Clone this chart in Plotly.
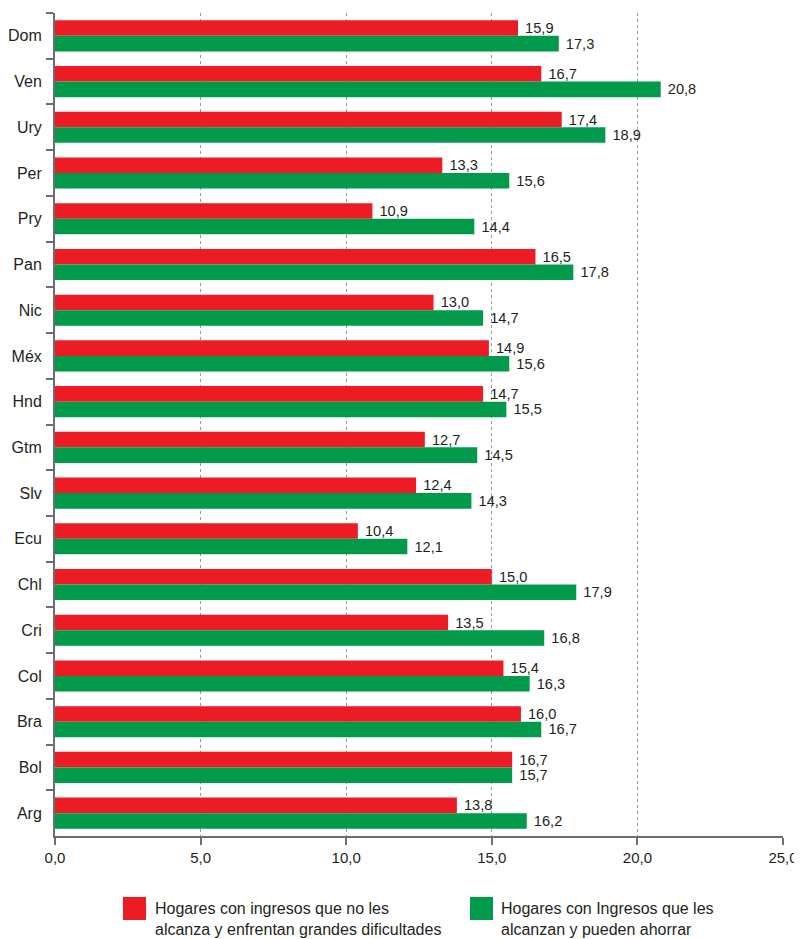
import plotly.graph_objects as go

countries = ['Dom', 'Ven', 'Ury', 'Per', 'Pry', 'Pan', 'Nic', 'Méx', 'Hnd',
             'Gtm', 'Slv', 'Ecu', 'Chl', 'Cri', 'Col', 'Bra', 'Bol', 'Arg']

# bar lengths as drawn in the picture
red_values = [15.9, 16.7, 17.4, 13.3, 10.9, 16.5, 13.0, 14.9, 14.7,
              12.7, 12.4, 10.4, 15.0, 13.5, 15.4, 16.0, 15.7, 13.8]
green_values = [17.3, 20.8, 18.9, 15.6, 14.4, 17.8, 14.7, 15.6, 15.5,
                14.5, 14.3, 12.1, 17.9, 16.8, 16.3, 16.7, 15.7, 16.2]

# printed labels (Bol red label differs from its bar in the source)
red_labels = ['15,9', '16,7', '17,4', '13,3', '10,9', '16,5', '13,0', '14,9', '14,7',
              '12,7', '12,4', '10,4', '15,0', '13,5', '15,4', '16,0', '16,7', '13,8']
green_labels = ['17,3', '20,8', '18,9', '15,6', '14,4', '17,8', '14,7', '15,6', '15,5',
                '14,5', '14,3', '12,1', '17,9', '16,8', '16,3', '16,7', '15,7', '16,2']

x_ticks = [0, 5, 10, 15, 20, 25]
x_tick_labels = ['0,0', '5,0', '10,0', '15,0', '20,0', '25,0']

series_names = ['Hogares con ingresos que no les<br>alcanza y enfrentan grandes dificultades',
                'Hogares con Ingresos que les<br>alcanzan y pueden ahorrar']

RED = '#ED1C24'
GREEN = '#009A4A'
TEXT = '#231F20'
FONT = 'Liberation Sans, Arial, sans-serif'

# the page body adds an 8px margin, so the figure is sized to fit inside it
W, H = 794, 931
ML, MT = 47, 5
PW, PH = 728, 823

fig = go.Figure()
fig.add_trace(go.Bar(y=countries, x=red_values, orientation='h', name=series_names[0],
                     marker_color=RED, marker_line_width=0,
                     text=red_labels, texttemplate=' %{text}',
                     textposition='outside', cliponaxis=False,
                     textfont=dict(size=16, color=TEXT, family=FONT)))
fig.add_trace(go.Bar(y=countries, x=green_values, orientation='h', name=series_names[1],
                     marker_color=GREEN, marker_line_width=0,
                     text=green_labels, texttemplate=' %{text}',
                     textposition='outside', cliponaxis=False,
                     textfont=dict(size=16, color=TEXT, family=FONT)))

fig.update_layout(
    width=W, height=H,
    margin=dict(l=ML, r=W - ML - PW, t=MT, b=H - MT - PH, pad=0),
    paper_bgcolor='white', plot_bgcolor='white',
    barmode='group', bargap=0.32, bargroupgap=0,
    showlegend=False,
    font=dict(family=FONT, size=16, color=TEXT),
    uniformtext=dict(minsize=16),
)

fig.update_xaxes(
    range=[0, 25], tickvals=x_ticks, ticktext=x_tick_labels, automargin=False,
    showgrid=True, gridcolor='#999999', griddash='3px,3px', gridwidth=1,
    showline=True, linecolor='#6d6e71', linewidth=2,
    ticks='outside', ticklen=7, tickcolor='#6d6e71', tickwidth=2,
    zeroline=False, tickfont=dict(size=15, color=TEXT),
)
fig.update_yaxes(
    range=[17.5, -0.5], type='category', automargin=False,
    showline=True, linecolor='#6d6e71', linewidth=2,
    ticks='outside', tickson='boundaries', ticklen=7, tickcolor='#6d6e71', tickwidth=2,
    showgrid=False, tickfont=dict(size=16, color=TEXT), ticklabelstandoff=8,
)


# manual legend below the chart (screen pixel -> paper coords)
def px_x(px):
    return (px - 8 - ML) / PW


def px_y(py):
    return (MT + PH - (py - 8)) / PH


for color, sq_x, txt_x, name in [(RED, 123, 153, series_names[0]),
                                  (GREEN, 470, 499, series_names[1])]:
    fig.add_shape(type='rect', xref='paper', yref='paper',
                  x0=px_x(sq_x), x1=px_x(sq_x + 23), y0=px_y(920), y1=px_y(897),
                  fillcolor=color, line_width=0)
    fig.add_annotation(xref='paper', yref='paper', x=px_x(txt_x), y=px_y(919),
                       xanchor='left', yanchor='middle', align='left', showarrow=False,
                       text=name, font=dict(size=16, color=TEXT, family=FONT))

fig.write_html('out.html')
